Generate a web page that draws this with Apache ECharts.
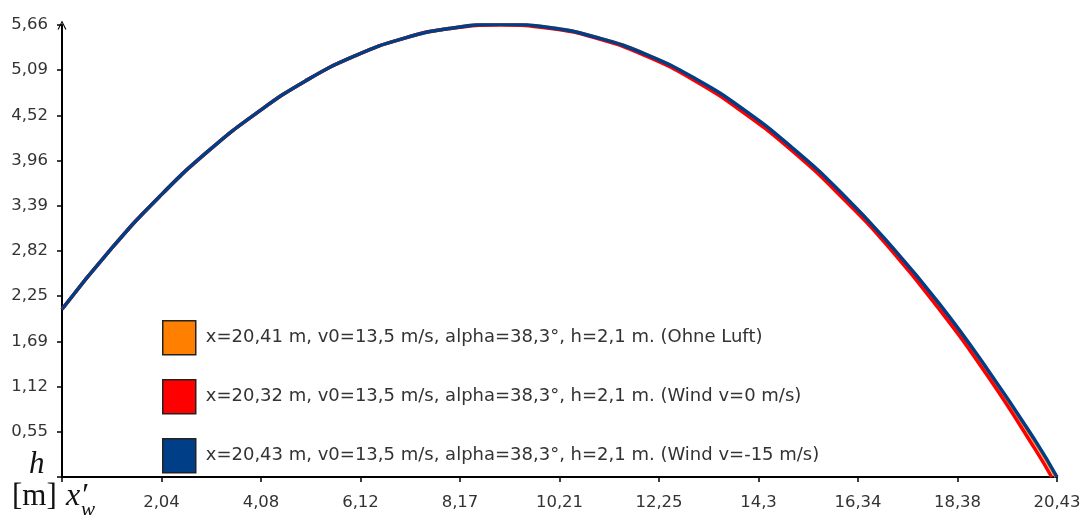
<!DOCTYPE html>
<html><head><meta charset="utf-8">
<script src="https://cdn.jsdelivr.net/npm/echarts@6/dist/echarts.min.js"></script>
<style>html,body{margin:0;padding:0;background:#fff}#c{width:1084px;height:515px}</style>
</head><body><div id="c"></div>
<script>
// Tick labels as printed in the chart
const xTickLabels = ['', '2,04', '4,08', '6,12', '8,17', '10,21', '12,25', '14,3', '16,34', '18,38', '20,43'];
const yTickLabels = ['', '0,55', '1,12', '1,69', '2,25', '2,82', '3,39', '3,96', '4,52', '5,09', '5,66'];

const seriesNames = [
  'x=20,41 m, v0=13,5 m/s, alpha=38,3°, h=2,1 m. (Ohne Luft)',
  'x=20,32 m, v0=13,5 m/s, alpha=38,3°, h=2,1 m. (Wind v=0 m/s)',
  'x=20,43 m, v0=13,5 m/s, alpha=38,3°, h=2,1 m. (Wind v=-15 m/s)'
];
const seriesColors = ['#ff8000', '#ff0000', '#003f87'];

// Horizontal distance [m]
const xOhneLuft = [0, 1, 2, 3, 4, 5, 6, 7, 8, 9, 10, 11, 12, 13, 14, 15, 16, 17, 18, 19, 20, 20.41];
const hOhneLuft = [2.10, 2.85, 3.51, 4.08, 4.56, 4.96, 5.27, 5.49, 5.62, 5.67, 5.63, 5.50, 5.29, 4.98, 4.59, 4.11, 3.55, 2.90, 2.16, 1.33, 0.42, 0];

const xWind0 = [0, 1, 2, 3, 4, 5, 6, 7, 8, 9, 10, 11, 12, 13, 14, 15, 16, 17, 18, 19, 20, 20.32];
const hWind0 = [2.10, 2.85, 3.51, 4.08, 4.56, 4.96, 5.27, 5.49, 5.62, 5.66, 5.62, 5.49, 5.27, 4.96, 4.56, 4.08, 3.51, 2.86, 2.11, 1.27, 0.33, 0];

const xWindM15 = [0, 1, 2, 3, 4, 5, 6, 7, 8, 9, 10, 11, 12, 13, 14, 15, 16, 17, 18, 19, 20, 20.43];
const hWindM15 = [2.10, 2.85, 3.51, 4.08, 4.56, 4.96, 5.27, 5.49, 5.62, 5.67, 5.63, 5.50, 5.29, 4.99, 4.60, 4.12, 3.56, 2.91, 2.18, 1.35, 0.44, 0];

const xs = [xOhneLuft, xWind0, xWindM15];
const hs = [hOhneLuft, hWind0, hWindM15];

const X_MAX = 20.43, X_INT = 2.043;
const Y_MAX = 5.66, Y_INT = 0.566;
const tickFont = '"DejaVu Sans", Verdana, sans-serif';
const legFont = '"DejaVu Sans", Verdana, sans-serif';

const chart = echarts.init(document.getElementById('c'));
chart.setOption({
  animation: false,
  backgroundColor: '#fff',
  grid: { left: 62, right: 27, top: 25, bottom: 38, containLabel: false },
  legend: {
    orient: 'vertical', left: 162, top: 320, itemWidth: 33, itemHeight: 34, itemGap: 23.5, padding: 0,
    icon: 'rect',
    textStyle: { fontFamily: legFont, fontSize: 18, color: '#333', padding: [0, 0, 0, 5] },
    data: seriesNames.map((n, i) => ({ name: n, itemStyle: { color: seriesColors[i], borderColor: '#222', borderWidth: 1.5 } }))
  },
  xAxis: {
    type: 'value', min: 0, max: X_MAX, interval: X_INT,
    axisLine: { lineStyle: { color: '#000', width: 2 } },
    axisTick: { show: true, inside: false, length: 5, lineStyle: { color: '#000', width: 1.5 } },
    splitLine: { show: false },
    axisLabel: { fontFamily: tickFont, fontSize: 16.5, color: '#333', margin: 17,
      formatter: v => xTickLabels[Math.round(v / X_INT)] || '' }
  },
  yAxis: {
    type: 'value', min: 0, max: Y_MAX, interval: Y_INT,
    axisLine: { show: true, lineStyle: { color: '#000', width: 2 },
      symbol: ['none', 'path://M0,10 L5,0 L10,10 L8.6,10 L5,2.6 L1.4,10 Z'], symbolSize: [9, 9] },
    axisTick: { show: true, inside: false, length: 5, lineStyle: { color: '#000', width: 1.5 } },
    splitLine: { show: false },
    axisLabel: { fontFamily: tickFont, fontSize: 16.5, color: '#333', margin: 14,
      formatter: v => yTickLabels[Math.round(v / Y_INT)] || '' }
  },
  graphic: [
    { type: 'text', left: 29, top: 449, style: { text: 'h', font: 'italic 31px "Liberation Serif", "DejaVu Serif", serif', fill: '#111' } },
    { type: 'text', left: 12, top: 481, style: { text: '[m]', font: '31px "Liberation Serif", "DejaVu Serif", serif', fill: '#111' } },
    { type: 'text', left: 66, top: 481, style: { text: 'x′', font: 'italic 32px "Liberation Serif", "DejaVu Serif", serif', fill: '#111' } },
    { type: 'text', left: 81, top: 500, style: { text: 'w', font: 'italic 21px "Liberation Serif", "DejaVu Serif", serif', fill: '#111' } }
  ],
  series: seriesNames.map((n, i) => ({
    name: n, type: 'line', smooth: true, showSymbol: false, symbol: 'none',
    lineStyle: { color: seriesColors[i], width: 3.5 },
    itemStyle: { color: seriesColors[i] },
    z: 2 + i,
    data: xs[i].map((x, j) => [x, hs[i][j]])
  }))
});
</script></body></html>
